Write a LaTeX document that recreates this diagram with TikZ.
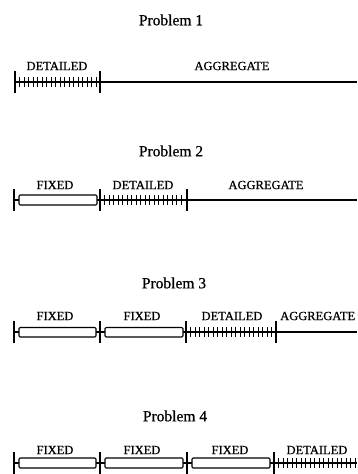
\documentclass[tikz,border=0pt]{standalone}
\usepackage{fontspec}
\setmainfont{Liberation Serif}
\newfontfamily\heavyserif[FakeBold=0.7]{Liberation Serif}
\begin{document}
\begin{tikzpicture}[x=1pt,y=-1pt,
  title/.style={font=\heavyserif\fontsize{15.5}{16}\selectfont, inner sep=0pt},
  lab/.style={font=\heavyserif\fontsize{12.5}{13}\selectfont, inner sep=0pt},
  mainline/.style={line width=1.4pt},
  sep/.style={line width=1.2pt},
  hatch/.style={line width=0.9pt},
  fixbox/.style={draw, line width=1.1pt, fill=white, rounded corners=1.2pt}]
\useasboundingbox (0,0) rectangle (357,474);
\fill[white] (0,0) rectangle (357,474);

% ---------- Problem 1 ----------
\node[title] (t1) at (171,20) {Problem 1};
\draw[mainline] (15,82) -- (357,82);
\foreach \x in {15,100} \draw[sep] (\x,71) -- (\x,93);
\foreach \x in {19.5,24,...,96} \draw[hatch] (\x,77) -- (\x,87);
\node[lab] (d1) at (57,66) {DETAILED};
\node[lab] (a1) at (232,66) {AGGREGATE};

% ---------- Problem 2 ----------
\node[title] (t2) at (171,151) {Problem 2};
\draw[mainline] (14,200) -- (19,200) (97,200) -- (357,200);
\draw[fixbox] (19,195) rectangle (97,205);
\foreach \x in {14,100,187} \draw[sep] (\x,189) -- (\x,211);
\foreach \x in {104.5,109,...,183} \draw[hatch] (\x,195) -- (\x,205);
\node[lab] (f21) at (55,185) {FIXED};
\node[lab] (d2) at (143,185) {DETAILED};
\node[lab] (a2) at (266,185) {AGGREGATE};

% ---------- Problem 3 ----------
\node[title] (t3) at (174,283) {Problem 3};
\draw[mainline] (14,332) -- (357,332);
\draw[fixbox] (19,327.5) rectangle (96,337);
\draw[fixbox] (105,327.5) rectangle (183,337);
\foreach \x in {14,100,186,276} \draw[sep] (\x,321) -- (\x,343);
\foreach \x in {190.5,195,...,272} \draw[hatch] (\x,327) -- (\x,337);
\node[lab] (f31) at (55,316) {FIXED};
\node[lab] (f32) at (142,316) {FIXED};
\node[lab] (d3) at (232,316) {DETAILED};
\node[lab,anchor=west] (a3) at (280,316) {AGGREGATE};

% ---------- Problem 4 ----------
\node[title] (t4) at (175,416) {Problem 4};
\draw[mainline] (14,463) -- (357,463);
\draw[fixbox] (19,458) rectangle (96,468);
\draw[fixbox] (105,458) rectangle (183,468);
\draw[fixbox] (192,458) rectangle (270,468);
\foreach \x in {14,100,187,274} \draw[sep] (\x,452) -- (\x,474);
\foreach \x in {278.5,283,...,357} \draw[hatch] (\x,458) -- (\x,468);
\node[lab] (f41) at (55,450) {FIXED};
\node[lab] (f42) at (142,450) {FIXED};
\node[lab] (f43) at (230,450) {FIXED};
\node[lab] (d4) at (317,450) {DETAILED};
\end{tikzpicture}
\end{document}
